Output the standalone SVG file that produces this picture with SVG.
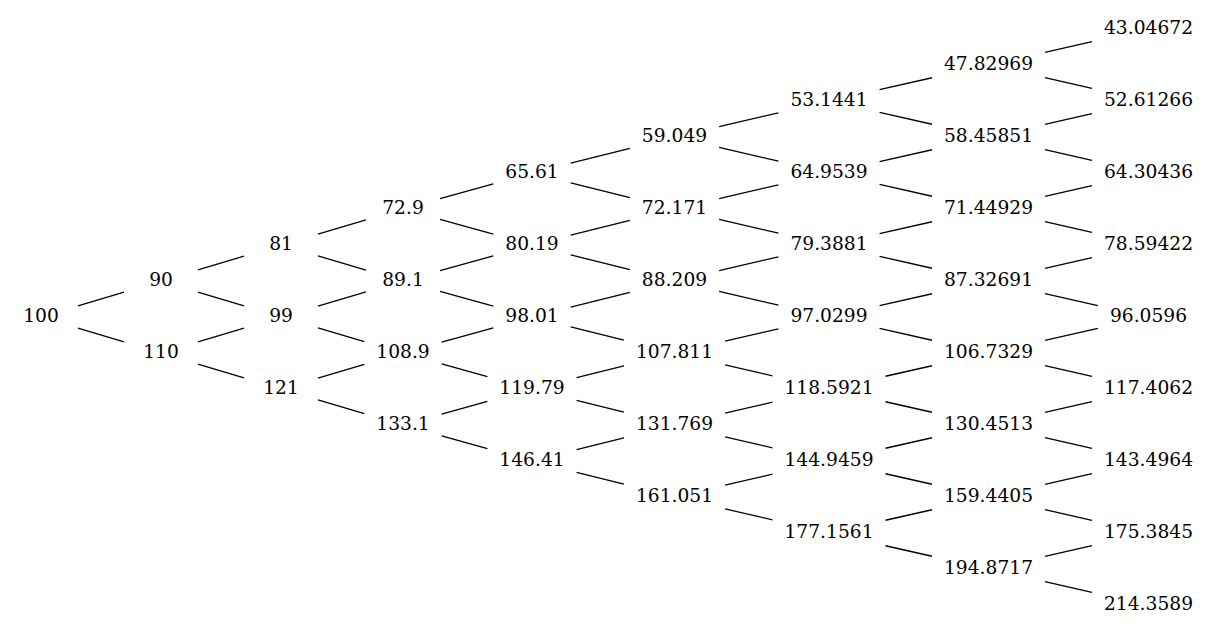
<svg xmlns="http://www.w3.org/2000/svg" width="1211" height="635" viewBox="0 0 1211 635">
<style>
text{font-family:"DejaVu Serif",serif;font-size:18.67px;fill:#000;text-anchor:middle}
#edges line{stroke:#000;stroke-width:1.33;fill:none}
</style>
<rect width="1211" height="635" fill="#fff"/>
<g id="edges">
<line x1="78" y1="305.9" x2="124" y2="292.1"/>
<line x1="78" y1="328.1" x2="124" y2="341.9"/>
<line x1="198" y1="269.9" x2="244" y2="256.1"/>
<line x1="198" y1="292.1" x2="244" y2="305.9"/>
<line x1="198" y1="341.9" x2="244" y2="328.1"/>
<line x1="198" y1="364.1" x2="244" y2="377.9"/>
<line x1="318" y1="234.08" x2="366" y2="219.92"/>
<line x1="318" y1="255.92" x2="366" y2="270.08"/>
<line x1="318" y1="306.08" x2="366" y2="291.92"/>
<line x1="318" y1="327.92" x2="364.3" y2="341.58"/>
<line x1="318" y1="378.08" x2="364.3" y2="364.42"/>
<line x1="318" y1="399.92" x2="364.3" y2="413.58"/>
<line x1="440" y1="198.67" x2="493.3" y2="183.8"/>
<line x1="440" y1="219.33" x2="493.3" y2="234.2"/>
<line x1="440" y1="270.67" x2="493.3" y2="255.8"/>
<line x1="440" y1="291.33" x2="493.3" y2="306.2"/>
<line x1="441.7" y1="342.2" x2="493.3" y2="327.8"/>
<line x1="441.7" y1="363.8" x2="487.4" y2="376.55"/>
<line x1="441.7" y1="414.2" x2="487.4" y2="401.45"/>
<line x1="441.7" y1="435.8" x2="487.4" y2="448.55"/>
<line x1="570.7" y1="163.22" x2="629.9" y2="148.27"/>
<line x1="570.7" y1="182.78" x2="629.9" y2="197.73"/>
<line x1="570.7" y1="235.22" x2="629.9" y2="220.27"/>
<line x1="570.7" y1="254.78" x2="629.9" y2="269.73"/>
<line x1="570.7" y1="307.22" x2="629.9" y2="292.27"/>
<line x1="570.7" y1="326.78" x2="623.9" y2="340.22"/>
<line x1="576.6" y1="377.73" x2="623.9" y2="365.78"/>
<line x1="576.6" y1="400.27" x2="623.9" y2="412.22"/>
<line x1="576.6" y1="449.73" x2="623.9" y2="437.78"/>
<line x1="576.6" y1="472.27" x2="623.9" y2="484.22"/>
<line x1="719.1" y1="126.61" x2="778.4" y2="112.79"/>
<line x1="719.1" y1="147.39" x2="778.4" y2="161.21"/>
<line x1="719.1" y1="198.61" x2="778.4" y2="184.79"/>
<line x1="719.1" y1="219.39" x2="778.4" y2="233.21"/>
<line x1="719.1" y1="270.61" x2="778.4" y2="256.79"/>
<line x1="719.1" y1="291.39" x2="778.4" y2="305.21"/>
<line x1="725.1" y1="341.21" x2="778.4" y2="328.79"/>
<line x1="725.1" y1="364.79" x2="772.5" y2="375.83"/>
<line x1="725.1" y1="413.21" x2="772.5" y2="402.17"/>
<line x1="725.1" y1="436.79" x2="772.5" y2="447.83"/>
<line x1="725.1" y1="485.21" x2="772.5" y2="474.17"/>
<line x1="725.1" y1="508.79" x2="772.5" y2="519.83"/>
<line x1="879.6" y1="89.58" x2="932" y2="77.75"/>
<line x1="879.6" y1="112.42" x2="932" y2="124.25"/>
<line x1="879.6" y1="161.58" x2="932" y2="149.75"/>
<line x1="879.6" y1="184.42" x2="932" y2="196.25"/>
<line x1="879.6" y1="233.58" x2="932" y2="221.75"/>
<line x1="879.6" y1="256.42" x2="932" y2="268.25"/>
<line x1="879.6" y1="305.58" x2="932" y2="293.75"/>
<line x1="879.6" y1="328.42" x2="932" y2="340.25"/>
<line x1="885.5" y1="376.25" x2="932" y2="365.75"/>
<line x1="885.5" y1="401.75" x2="932" y2="412.25"/>
<line x1="885.5" y1="448.25" x2="932" y2="437.75"/>
<line x1="885.5" y1="473.75" x2="932" y2="484.25"/>
<line x1="885.5" y1="520.25" x2="932" y2="509.75"/>
<line x1="885.5" y1="545.75" x2="932" y2="556.25"/>
<line x1="1045" y1="52.29" x2="1092" y2="41.71"/>
<line x1="1045" y1="77.71" x2="1092" y2="88.29"/>
<line x1="1045" y1="124.29" x2="1092" y2="113.71"/>
<line x1="1045" y1="149.71" x2="1092" y2="160.29"/>
<line x1="1045" y1="196.29" x2="1092" y2="185.71"/>
<line x1="1045" y1="221.71" x2="1092" y2="232.29"/>
<line x1="1045" y1="268.29" x2="1092" y2="257.71"/>
<line x1="1045" y1="293.71" x2="1097.9" y2="305.61"/>
<line x1="1045" y1="340.29" x2="1097.9" y2="328.39"/>
<line x1="1045" y1="365.71" x2="1092" y2="376.29"/>
<line x1="1045" y1="412.29" x2="1092" y2="401.71"/>
<line x1="1045" y1="437.71" x2="1092" y2="448.29"/>
<line x1="1045" y1="484.29" x2="1092" y2="473.71"/>
<line x1="1045" y1="509.71" x2="1092" y2="520.29"/>
<line x1="1045" y1="556.29" x2="1092" y2="545.71"/>
<line x1="1045" y1="581.71" x2="1092" y2="592.29"/>
</g>
<g id="n0_0"><text x="41" y="322.3">100</text></g>
<g id="n1_0"><text x="161" y="286.3">90</text></g>
<g id="n1_1"><text x="161" y="358.3">110</text></g>
<g id="n2_0"><text x="281" y="250.3">81</text></g>
<g id="n2_1"><text x="281" y="322.3">99</text></g>
<g id="n2_2"><text x="281" y="394.3">121</text></g>
<g id="n3_0"><text x="403" y="214.3">72.9</text></g>
<g id="n3_1"><text x="403" y="286.3">89.1</text></g>
<g id="n3_2"><text x="403" y="358.3">108.9</text></g>
<g id="n3_3"><text x="403" y="430.3">133.1</text></g>
<g id="n4_0"><text x="532" y="178.3">65.61</text></g>
<g id="n4_1"><text x="532" y="250.3">80.19</text></g>
<g id="n4_2"><text x="532" y="322.3">98.01</text></g>
<g id="n4_3"><text x="532" y="394.3">119.79</text></g>
<g id="n4_4"><text x="532" y="466.3">146.41</text></g>
<g id="n5_0"><text x="674.5" y="142.3">59.049</text></g>
<g id="n5_1"><text x="674.5" y="214.3">72.171</text></g>
<g id="n5_2"><text x="674.5" y="286.3">88.209</text></g>
<g id="n5_3"><text x="674.5" y="358.3">107.811</text></g>
<g id="n5_4"><text x="674.5" y="430.3">131.769</text></g>
<g id="n5_5"><text x="674.5" y="502.3">161.051</text></g>
<g id="n6_0"><text x="829" y="106.3">53.1441</text></g>
<g id="n6_1"><text x="829" y="178.3">64.9539</text></g>
<g id="n6_2"><text x="829" y="250.3">79.3881</text></g>
<g id="n6_3"><text x="829" y="322.3">97.0299</text></g>
<g id="n6_4"><text x="829" y="394.3">118.5921</text></g>
<g id="n6_5"><text x="829" y="466.3">144.9459</text></g>
<g id="n6_6"><text x="829" y="538.3">177.1561</text></g>
<g id="n7_0"><text x="988.5" y="70.3">47.82969</text></g>
<g id="n7_1"><text x="988.5" y="142.3">58.45851</text></g>
<g id="n7_2"><text x="988.5" y="214.3">71.44929</text></g>
<g id="n7_3"><text x="988.5" y="286.3">87.32691</text></g>
<g id="n7_4"><text x="988.5" y="358.3">106.7329</text></g>
<g id="n7_5"><text x="988.5" y="430.3">130.4513</text></g>
<g id="n7_6"><text x="988.5" y="502.3">159.4405</text></g>
<g id="n7_7"><text x="988.5" y="574.3">194.8717</text></g>
<g id="n8_0"><text x="1148.5" y="34.3">43.04672</text></g>
<g id="n8_1"><text x="1148.5" y="106.3">52.61266</text></g>
<g id="n8_2"><text x="1148.5" y="178.3">64.30436</text></g>
<g id="n8_3"><text x="1148.5" y="250.3">78.59422</text></g>
<g id="n8_4"><text x="1148.5" y="322.3">96.0596</text></g>
<g id="n8_5"><text x="1148.5" y="394.3">117.4062</text></g>
<g id="n8_6"><text x="1148.5" y="466.3">143.4964</text></g>
<g id="n8_7"><text x="1148.5" y="538.3">175.3845</text></g>
<g id="n8_8"><text x="1148.5" y="610.3">214.3589</text></g>
</svg>
